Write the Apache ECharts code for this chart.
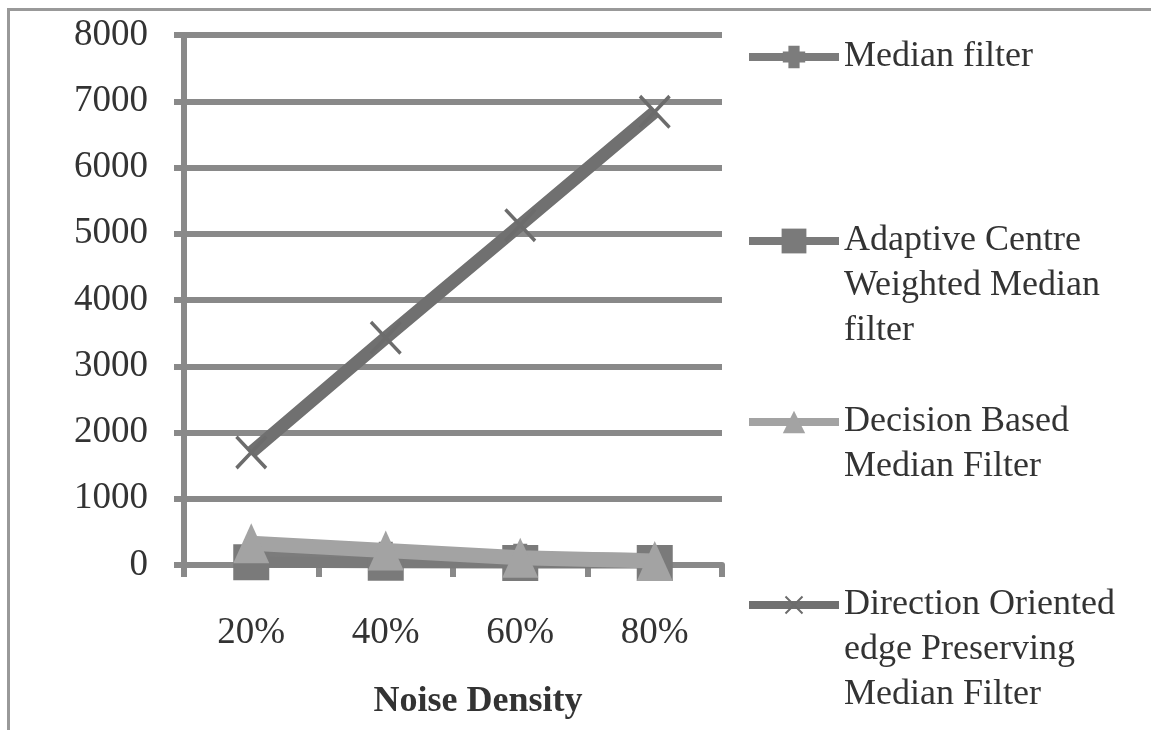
<!DOCTYPE html>
<html>
<head>
<meta charset="utf-8">
<script src="https://cdn.jsdelivr.net/npm/echarts@6/dist/echarts.min.js"></script>
<style>
  html, body { margin: 0; padding: 0; background: #fff; }
  #chart { width: 1151px; height: 730px; }
</style>
</head>
<body>
<div id="chart"></div>
<script>
// Noise density levels on the x axis
const categories = ['20%', '40%', '60%', '80%'];

// Series values
const medianFilter = [180, 140, 110, 90];
const adaptiveCentre = [40, 35, 30, 30];
const decisionBased = [330, 220, 110, 60];
const directionOriented = [1700, 3430, 5130, 6840];

// Y axis range
const yMin = 0;
const yMax = 8000;
const yStep = 1000;

const seriesNames = [
  'Median filter',
  'Adaptive Centre Weighted Median filter',
  'Decision Based Median Filter',
  'Direction Oriented edge Preserving Median Filter'
];
const legendLines = {
  'Median filter': ['Median filter'],
  'Adaptive Centre Weighted Median filter': ['Adaptive Centre', 'Weighted Median', 'filter'],
  'Decision Based Median Filter': ['Decision Based', 'Median Filter'],
  'Direction Oriented edge Preserving Median Filter': ['Direction Oriented', 'edge Preserving', 'Median Filter']
};

const serif = "'Liberation Serif', 'Times New Roman', serif";
const plusPath = 'path://M2.5,0 H7.5 V2.5 H10 V7.5 H7.5 V10 H2.5 V7.5 H0 V2.5 H2.5 Z';
const crossPath = 'path://M0,1.5 L1.5,0 L20,18.5 L18.5,20 Z M18.5,0 L20,1.5 L1.5,20 L0,18.5 Z';

// Legend text is vertically centred on its icon, so blank lines are
// prepended to keep the first line of the name level with the icon.
const LINE_H = 45;
function makeLegend(name, iconY, itemHeight) {
  const lines = legendLines[name];
  const n = lines.length;
  const boxH = (2 * n - 1) * LINE_H;
  const pad = new Array(n - 1).fill('').concat(lines).join('\n');
  return {
    data: [name],
    left: 745,
    top: iconY - boxH / 2,
    padding: 0,
    itemWidth: 90,
    itemHeight: itemHeight,
    itemGap: 0,
    selectedMode: false,
    lineStyle: { width: 8 },
    formatter: function () { return pad; },
    textStyle: {
      fontFamily: serif,
      fontSize: 36,
      color: '#333',
      lineHeight: LINE_H
    }
  };
}

const chart = echarts.init(document.getElementById('chart'), null, { renderer: 'canvas' });

chart.setOption({
  animation: false,
  backgroundColor: '#ffffff',
  grid: { left: 184, right: 429, top: 35, bottom: 165 },
  legend: [
    makeLegend(seriesNames[0], 57, 28),
    makeLegend(seriesNames[1], 241, 31),
    makeLegend(seriesNames[2], 422, 28),
    makeLegend(seriesNames[3], 605, 23)
  ],
  xAxis: {
    type: 'category',
    data: categories,
    boundaryGap: true,
    axisLine: { show: true, lineStyle: { color: '#898989', width: 6 } },
    axisTick: { show: true, length: 12, lineStyle: { color: '#898989', width: 6 } },
    axisLabel: { margin: 50, fontFamily: serif, fontSize: 37, color: '#333' },
    splitLine: { show: false },
    name: 'Noise Density',
    nameLocation: 'middle',
    nameGap: 119,
    nameTextStyle: {
      fontFamily: serif, fontSize: 36, fontWeight: 'bold', color: '#333',
      padding: [0, 0, 0, 50]
    }
  },
  yAxis: {
    type: 'value',
    min: yMin,
    max: yMax,
    interval: yStep,
    axisLine: { show: true, lineStyle: { color: '#898989', width: 6 } },
    axisTick: { show: true, length: 10, lineStyle: { color: '#898989', width: 6 } },
    axisLabel: {
      margin: 36, fontFamily: serif, fontSize: 37, color: '#333',
      formatter: function (v) { return String(v); }
    },
    splitLine: { show: true, lineStyle: { color: '#898989', width: 6 } }
  },
  series: [
    {
      name: seriesNames[0],
      type: 'line',
      z: 2,
      data: medianFilter,
      symbol: plusPath,
      symbolSize: 28,
      lineStyle: { color: '#7c7c7c', width: 12 },
      itemStyle: { color: '#7c7c7c' }
    },
    {
      name: seriesNames[1],
      type: 'line',
      z: 3,
      data: adaptiveCentre,
      symbol: 'rect',
      symbolSize: 36,
      lineStyle: { color: '#7a7a7a', width: 11 },
      itemStyle: { color: '#7a7a7a' }
    },
    {
      name: seriesNames[2],
      type: 'line',
      z: 4,
      data: decisionBased,
      symbol: 'triangle',
      symbolSize: [36, 40],
      lineStyle: { color: '#a3a3a3', width: 15 },
      itemStyle: { color: '#a3a3a3' }
    },
    {
      name: seriesNames[3],
      type: 'line',
      z: 5,
      data: directionOriented,
      symbol: crossPath,
      symbolSize: [32, 34],
      lineStyle: { color: '#707070', width: 13 },
      itemStyle: { color: '#6c6c6c' }
    }
  ],
  graphic: [
    {
      type: 'line',
      shape: { x1: 7, y1: 9.5, x2: 1151, y2: 9.5 },
      style: { stroke: '#999', lineWidth: 3 }
    },
    {
      type: 'line',
      shape: { x1: 8.5, y1: 8, x2: 8.5, y2: 730 },
      style: { stroke: '#999', lineWidth: 3 }
    }
  ]
});
</script>
</body>
</html>
